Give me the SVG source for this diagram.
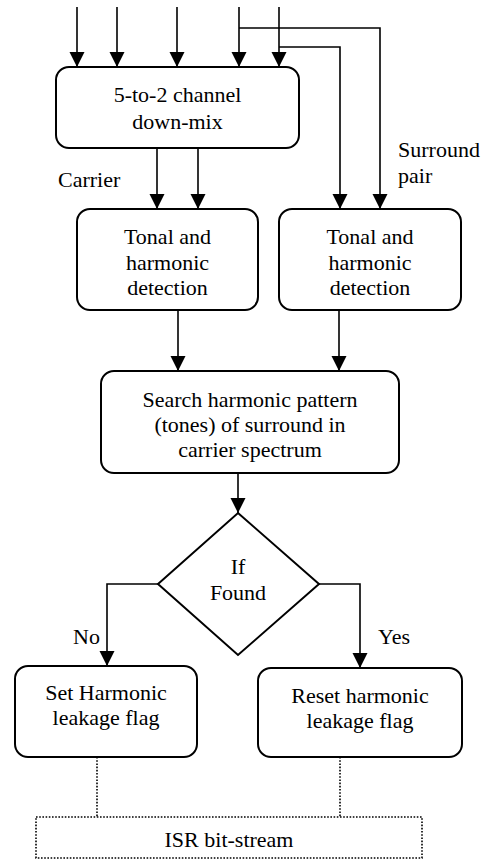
<svg xmlns="http://www.w3.org/2000/svg" width="488" height="861" viewBox="0 0 488 861">
  <style>
    .box { fill: #fff; stroke: #000; stroke-width: 2; }
    .dbox { fill: #fff; stroke: #000; stroke-width: 1.6; stroke-dasharray: 1.6 1.6; }
    .arrow { fill: none; stroke: #000; stroke-width: 1.6; marker-end: url(#head); }
    .dot { fill: none; stroke: #000; stroke-width: 1.6; stroke-dasharray: 1.6 1.6; }
    .t { font-family: 'Liberation Serif', 'Times New Roman', Times, 'DejaVu Serif', serif; font-size: 22px; fill: #000; }
    .c { text-anchor: middle; }
  </style>
  <defs>
    <marker id="head" markerUnits="userSpaceOnUse" markerWidth="16" markerHeight="16" refX="15" refY="7.5" orient="auto">
      <path d="M0,0 L15,7.5 L0,15 Z" fill="#000"/>
    </marker>
  </defs>
  <rect width="488" height="861" fill="#fff"/>

  <g id="connectors">
    <!-- five input channels -->
    <path class="arrow" d="M77,7 V67"/>
    <path class="arrow" d="M117,7 V67"/>
    <path class="arrow" d="M177,7 V67"/>
    <path class="arrow" d="M239,7 V67"/>
    <path class="arrow" d="M279,7 V67"/>
    <!-- surround pair taps -->
    <path class="arrow" d="M239,28 H380 V209"/>
    <path class="arrow" d="M279,47 H340 V209"/>
    <!-- carrier pair -->
    <path class="arrow" d="M157,148 V209"/>
    <path class="arrow" d="M198,148 V209"/>
    <!-- detections into search -->
    <path class="arrow" d="M178,310 V371"/>
    <path class="arrow" d="M339,310 V371"/>
    <!-- search into decision -->
    <path class="arrow" d="M238,473 V513"/>
    <!-- decision branches -->
    <path class="arrow" d="M158,584 H107 V666"/>
    <path class="arrow" d="M319,584 H360 V668"/>
    <!-- flags into bit-stream -->
    <path class="dot" d="M97,757 V817"/>
    <path class="dot" d="M340,757 V817"/>
  </g>

  <g class="t" font-family="'Liberation Serif', 'Times New Roman', serif" font-size="22">
    <g id="downmix">
      <rect class="box" x="56" y="67" width="243" height="81" rx="13"/>
      <text class="c" x="177.5" y="102">5-to-2 channel</text>
      <text class="c" x="177.5" y="129">down-mix</text>
    </g>

    <g id="label-carrier">
      <text x="58" y="187">Carrier</text>
    </g>
    <g id="label-surround">
      <text x="398" y="157">Surround</text>
      <text x="398" y="183">pair</text>
    </g>

    <g id="detect-carrier">
      <rect class="box" x="77" y="209" width="181" height="101" rx="13"/>
      <text class="c" x="167.5" y="244">Tonal and</text>
      <text class="c" x="167.5" y="270">harmonic</text>
      <text class="c" x="167.5" y="295">detection</text>
    </g>

    <g id="detect-surround">
      <rect class="box" x="279" y="209" width="182" height="101" rx="13"/>
      <text class="c" x="370" y="244">Tonal and</text>
      <text class="c" x="370" y="270">harmonic</text>
      <text class="c" x="370" y="295">detection</text>
    </g>

    <g id="search">
      <rect class="box" x="101" y="371" width="298" height="102" rx="13"/>
      <text class="c" x="250" y="407">Search harmonic pattern</text>
      <text class="c" x="250" y="432">(tones) of surround in</text>
      <text class="c" x="250" y="457">carrier spectrum</text>
    </g>

    <g id="decision">
      <polygon class="box" points="238,513 319,584 238,655 158,584"/>
      <text class="c" x="238" y="574">If</text>
      <text class="c" x="238" y="600">Found</text>
    </g>

    <g id="label-no">
      <text x="73" y="644">No</text>
    </g>
    <g id="label-yes">
      <text x="378" y="644">Yes</text>
    </g>

    <g id="set-flag">
      <rect class="box" x="15" y="666" width="182" height="91" rx="13"/>
      <text class="c" x="106" y="700">Set Harmonic</text>
      <text class="c" x="106" y="725">leakage flag</text>
    </g>

    <g id="reset-flag">
      <rect class="box" x="258" y="668" width="204" height="89" rx="13"/>
      <text class="c" x="360" y="703">Reset harmonic</text>
      <text class="c" x="360" y="728">leakage flag</text>
    </g>

    <g id="isr">
      <rect class="dbox" x="36" y="817" width="386" height="41"/>
      <text class="c" x="229" y="847">ISR bit-stream</text>
    </g>
  </g>
</svg>
